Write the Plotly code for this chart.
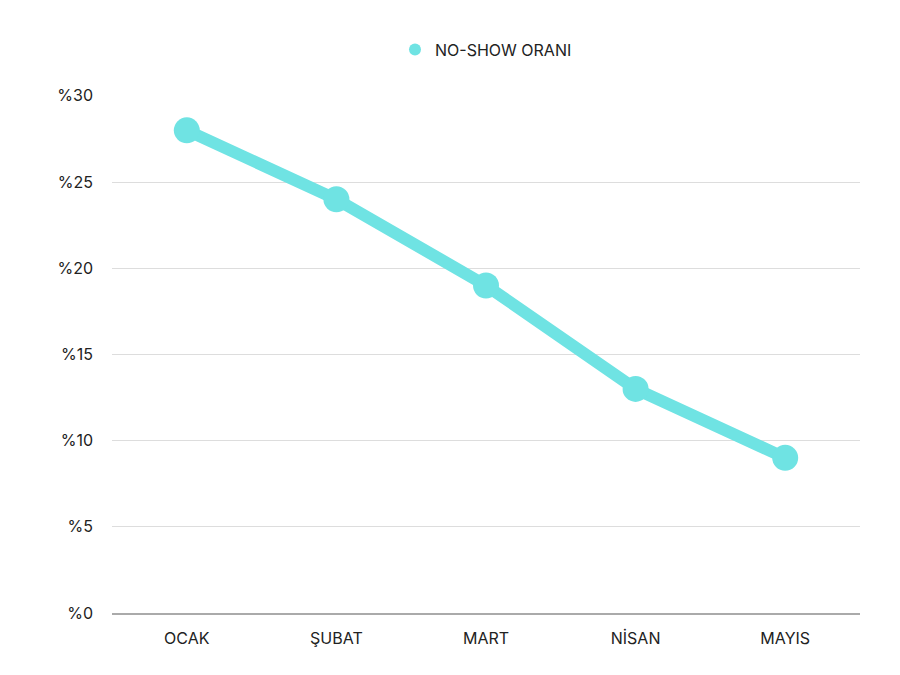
import plotly.graph_objects as go

months = ["OCAK", "ŞUBAT", "MART", "NİSAN", "MAYIS"]
no_show = [28, 24, 19, 13, 9]
y_ticks = [0, 5, 10, 15, 20, 25, 30]
y_labels = ["%0", "%5", "%10", "%15", "%20", "%25", "%30"]

color = "#6FE3E3"
fig = go.Figure()
fig.add_trace(go.Scatter(
    x=months, y=no_show, mode="lines+markers", name="NO-SHOW ORANI",
    line=dict(color=color, width=12),
    marker=dict(color=color, size=26), showlegend=False,
))
fig.add_trace(go.Scatter(
    x=[None], y=[None], mode="markers", name="NO-SHOW ORANI",
    marker=dict(color=color, size=20), showlegend=True,
))
fig.update_layout(
    width=900, height=675,
    margin=dict(l=104, r=48, t=87, b=70),
    paper_bgcolor="white", plot_bgcolor="white",
    font=dict(family="Inter, Lato, sans-serif", size=16, color="#222"),
    legend=dict(orientation="h", x=0.5, xanchor="center", y=1.055, yanchor="bottom",
                font=dict(size=16), itemsizing="constant"),
)
fig.update_xaxes(range=[-0.5, 4.5], showgrid=False, showline=True, linecolor="#aaa",
                 linewidth=1.5, ticks="", ticklabelstandoff=10)
fig.update_yaxes(range=[0, 30.05], tickvals=y_ticks, ticktext=y_labels, showgrid=True,
                 gridcolor="#ddd", zeroline=False, ticks="", ticklabelstandoff=18)
fig.write_html("out.html")
